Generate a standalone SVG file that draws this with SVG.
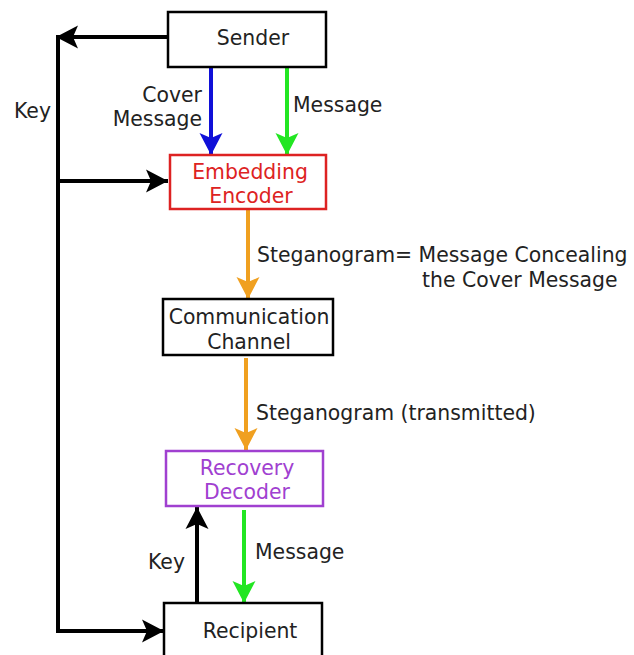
<svg xmlns="http://www.w3.org/2000/svg" width="634" height="655" viewBox="0 0 634 655">
<style>
text{font-family:"DejaVu Sans",Verdana,sans-serif;font-size:20.4px;fill:#222}
.c{text-anchor:middle}
.r{text-anchor:end}
.box{fill:#fff;stroke-width:2.5}
.ln{fill:none;stroke-width:4}
</style>
<defs>
<marker id="ak" markerUnits="userSpaceOnUse" viewBox="-24 -12 26 24" refX="0" refY="0" markerWidth="26" markerHeight="24" orient="auto"><path d="M0,0 L-22,-11.5 L-17,0 L-22,11.5 Z" fill="#000"/></marker>
<marker id="ab" markerUnits="userSpaceOnUse" viewBox="-24 -12 26 24" refX="0" refY="0" markerWidth="26" markerHeight="24" orient="auto"><path d="M0,0 L-22,-11.5 L-17,0 L-22,11.5 Z" fill="#1010d8"/></marker>
<marker id="ag" markerUnits="userSpaceOnUse" viewBox="-24 -12 26 24" refX="0" refY="0" markerWidth="26" markerHeight="24" orient="auto"><path d="M0,0 L-22,-11.5 L-17,0 L-22,11.5 Z" fill="#22e622"/></marker>
<marker id="ao" markerUnits="userSpaceOnUse" viewBox="-24 -12 26 24" refX="0" refY="0" markerWidth="26" markerHeight="24" orient="auto"><path d="M0,0 L-22,-11.5 L-17,0 L-22,11.5 Z" fill="#f0a020"/></marker>
</defs>
<g id="connectors">
<path class="ln" stroke="#000" d="M168,37 H56" marker-end="url(#ak)"/>
<path class="ln" stroke="#000" d="M58,37 V631"/>
<path class="ln" stroke="#000" d="M56,181 H168" marker-end="url(#ak)"/>
<path class="ln" stroke="#000" d="M56,631 H164" marker-end="url(#ak)"/>
<path class="ln" stroke="#000" d="M197,603 V507" marker-end="url(#ak)"/>
<path class="ln" stroke="#1010d8" d="M211,67 V155" marker-end="url(#ab)"/>
<path class="ln" stroke="#22e622" d="M287,67 V155" marker-end="url(#ag)"/>
<path class="ln" stroke="#f0a020" d="M248,210 V299" marker-end="url(#ao)"/>
<path class="ln" stroke="#f0a020" d="M246,358 V450" marker-end="url(#ao)"/>
<path class="ln" stroke="#22e622" d="M244,510 V603" marker-end="url(#ag)"/>
<text x="14" y="118">Key</text>
<text class="r" x="202" y="102">Cover</text>
<text class="r" x="202" y="126">Message</text>
<text x="293" y="112">Message</text>
<text x="257" y="262">Steganogram= Message Concealing</text>
<text x="422" y="287">the Cover Message</text>
<text x="256" y="420">Steganogram (transmitted)</text>
<text x="148" y="569">Key</text>
<text x="255" y="559">Message</text>
</g>
<g id="sender">
<rect class="box" stroke="#000" x="168" y="12" width="158" height="55"/>
<text class="c" x="253" y="45">Sender</text>
</g>
<g id="encoder">
<rect class="box" stroke="#dd2222" x="170" y="155" width="156" height="54"/>
<text class="c" x="250" y="179" style="fill:#dd2222">Embedding</text>
<text class="c" x="251" y="203" style="fill:#dd2222">Encoder</text>
</g>
<g id="channel">
<rect class="box" stroke="#000" x="163" y="299" width="170" height="56"/>
<text class="c" x="249" y="324">Communication</text>
<text class="c" x="249" y="349">Channel</text>
</g>
<g id="decoder">
<rect class="box" stroke="#a040d0" x="166" y="451" width="157" height="55"/>
<text class="c" x="247" y="475" style="fill:#a040d0">Recovery</text>
<text class="c" x="247" y="499" style="fill:#a040d0">Decoder</text>
</g>
<g id="recipient">
<rect class="box" stroke="#000" x="164" y="603" width="158" height="60"/>
<text class="c" x="250" y="638">Recipient</text>
</g>
</svg>
